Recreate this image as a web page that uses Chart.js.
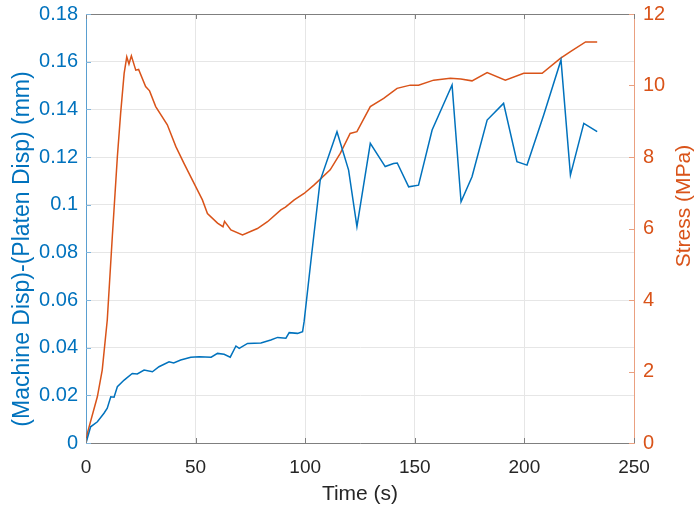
<!DOCTYPE html>
<html>
<head>
<meta charset="utf-8">
<script src="https://cdn.jsdelivr.net/npm/chart.js@4"></script>
<style>
  body { margin: 0; background: #fff; }
  #wrap { width: 696px; height: 512px; }
</style>
</head>
<body>
<div id="wrap"><canvas id="chart" width="696" height="512"></canvas></div>
<script>
// displacement difference (left axis)
const dispTime = [0, 2.1, 5.2, 8.2, 9.7, 11.3, 12.8, 14.3, 17.4, 21.1, 23.4, 26.5, 30.3, 33.3, 37.9, 40, 43.2, 47.8, 51.6, 57.1, 60, 63, 65.8, 68.4, 69.9, 73.7, 79.8, 84.3, 87.4, 91.2, 92.7, 96.5, 98.8, 99.5, 103, 106.8, 114.5, 119.8, 123.6, 129.7, 136.5, 140.3, 142, 147.2, 151.7, 157.9, 167, 171.1, 176.1, 183, 190.5, 196.6, 201.2, 208.8, 216.7, 221, 227.1, 233.2];
const dispVals = [0, 0.0068, 0.0089, 0.0125, 0.0146, 0.0194, 0.0192, 0.0236, 0.0264, 0.0292, 0.0290, 0.0306, 0.0299, 0.032, 0.0341, 0.0336, 0.0348, 0.036, 0.0362, 0.036, 0.0376, 0.0372, 0.036, 0.0407, 0.0397, 0.0418, 0.042, 0.0432, 0.0443, 0.044, 0.0463, 0.046, 0.0467, 0.0509, 0.0796, 0.110, 0.1306, 0.1145, 0.0908, 0.1257, 0.116, 0.1173, 0.1175, 0.1075, 0.1082, 0.1313, 0.1502, 0.1012, 0.1117, 0.1355, 0.1425, 0.118, 0.1166, 0.1376, 0.1607, 0.1124, 0.1341, 0.1306];

// stress (right axis)
const stressTime = [0, 0.6, 5.2, 7.4, 9.7, 12, 14.3, 15.8, 17.4, 18.6, 19.6, 20.7, 22.7, 24, 27.2, 29, 31.8, 37.1, 41, 44.7, 49.3, 53.1, 55.4, 60, 62.5, 63.2, 66.1, 71.4, 78.2, 82.8, 88.9, 91, 95, 99.5, 104.1, 111.4, 116, 120.5, 123.6, 129.7, 135.8, 141.9, 147.9, 151.7, 158.6, 166.2, 171, 176.1, 183, 191.3, 199.7, 208.1, 216.4, 221, 227.9, 233.2];
const stressVals = [0, 0.27, 1.3, 2.04, 3.44, 5.77, 8.0, 9.22, 10.34, 10.8, 10.6, 10.83, 10.43, 10.45, 9.97, 9.85, 9.41, 8.9, 8.29, 7.82, 7.26, 6.8, 6.42, 6.15, 6.05, 6.2, 5.96, 5.82, 6.0, 6.19, 6.52, 6.6, 6.8, 6.98, 7.22, 7.64, 8.1, 8.66, 8.71, 9.41, 9.64, 9.92, 10.01, 10.01, 10.15, 10.2, 10.18, 10.13, 10.36, 10.15, 10.34, 10.34, 10.76, 10.95, 11.22, 11.22];

const xTickLabels = ['0', '50', '100', '150', '200', '250'];
const leftTickLabels = ['0', '0.02', '0.04', '0.06', '0.08', '0.1', '0.12', '0.14', '0.16', '0.18'];
const rightTickLabels = ['0', '2', '4', '6', '8', '10', '12'];
const leftTitle = '(Machine Disp)-(Platen Disp) (mm)';
const rightTitle = 'Stress (MPa)';

const blue = '#0072BD';
const orange = '#D95319';
const greyText = '#262626';
const gridCol = '#e6e6e6';
const font = 'Liberation Sans, Arial, sans-serif';

function pts(xs, ys) {
    return xs.map((x, i) => ({x: x, y: ys[i]}));
}

// top frame, little inside tick marks like matlab, plus the two y titles (read bottom to top)
const matlabBits = {
    id: 'matlabBits',
    afterDatasetsDraw(chart) {
        const ctx = chart.ctx;
        const a = chart.chartArea;
        const sx = chart.scales.x, sy = chart.scales.y, sy2 = chart.scales.y2;
        const len = 5;
        ctx.save();
        ctx.lineWidth = 1;
        ctx.strokeStyle = '#7f7f7f';
        ctx.beginPath();
        const top = Math.round(a.top) + 0.5;
        ctx.moveTo(a.left, top); ctx.lineTo(a.right, top);
        for (let v = 0; v <= 250; v += 50) {
            const px = Math.round(sx.getPixelForValue(v)) + 0.5;
            ctx.moveTo(px, a.bottom); ctx.lineTo(px, a.bottom - len);
            ctx.moveTo(px, a.top); ctx.lineTo(px, a.top + len);
        }
        ctx.stroke();
        ctx.strokeStyle = '#7fb4dc';
        ctx.beginPath();
        for (let i = 0; i < leftTickLabels.length; i++) {
            const py = Math.round(sy.getPixelForValue(i * 0.02)) + 0.5;
            ctx.moveTo(a.left, py); ctx.lineTo(a.left + len, py);
        }
        ctx.stroke();
        ctx.strokeStyle = '#eaa080';
        ctx.beginPath();
        for (let i = 0; i < rightTickLabels.length; i++) {
            const py = Math.round(sy2.getPixelForValue(i * 2)) + 0.5;
            ctx.moveTo(a.right, py); ctx.lineTo(a.right - len, py);
        }
        ctx.stroke();

        ctx.textAlign = 'center';
        ctx.textBaseline = 'middle';
        ctx.save();
        ctx.translate(23, 249);
        ctx.rotate(-Math.PI / 2);
        ctx.fillStyle = blue;
        ctx.font = '23px ' + font;
        ctx.fillText(leftTitle, 0, 0);
        ctx.restore();
        ctx.save();
        ctx.translate(684, 206);
        ctx.rotate(-Math.PI / 2);
        ctx.fillStyle = orange;
        ctx.font = '21px ' + font;
        ctx.fillText(rightTitle, 0, 0);
        ctx.restore();
        ctx.restore();
    }
};

var ctx = document.getElementById('chart').getContext('2d');

var chart = new Chart(ctx, {
    type: 'line',
    data: {
        datasets: [{
            label: 'Disp',
            data: pts(dispTime, dispVals),
            borderColor: blue,
            borderWidth: 1.5,
            pointRadius: 0,
            tension: 0,
            yAxisID: 'y'
        }, {
            label: 'Stress',
            data: pts(stressTime, stressVals),
            borderColor: orange,
            borderWidth: 1.5,
            pointRadius: 0,
            tension: 0,
            yAxisID: 'y2'
        }]
    },
    options: {
        responsive: false,
        animation: false,
        layout: { padding: { top: 14, left: 0, right: 0, bottom: 0 } },
        plugins: {
            legend: { display: false },
            tooltip: { enabled: false }
        },
        scales: {
            x: {
                type: 'linear',
                min: 0, max: 250,
                afterFit: s => { s.height = 69; s.paddingLeft = 0; s.paddingRight = 0; },
                grid: { color: gridCol, drawTicks: false },
                border: { color: '#7f7f7f', width: 1 },
                ticks: {
                    stepSize: 50,
                    padding: 13,
                    color: greyText,
                    font: { family: font, size: 19 },
                    maxRotation: 0,
                    callback: (v, i) => xTickLabels[i]
                },
                title: {
                    display: true,
                    text: 'Time (s)',
                    color: greyText,
                    font: { family: font, size: 21 },
                    padding: { top: 0, bottom: 5 }
                }
            },
            y: {
                position: 'left',
                min: 0, max: 0.18,
                afterFit: s => { s.width = 86; s.paddingTop = 0; s.paddingBottom = 0; },
                grid: { color: gridCol, drawTicks: false },
                border: { color: '#5a9fd0', width: 1 },
                ticks: {
                    stepSize: 0.02,
                    padding: 8,
                    color: blue,
                    font: { family: font, size: 20 },
                    callback: (v, i) => leftTickLabels[i]
                }
            },
            y2: {
                position: 'right',
                min: 0, max: 12,
                afterFit: s => { s.width = 62; s.paddingTop = 0; s.paddingBottom = 0; },
                grid: { display: false, drawTicks: false },
                border: { color: '#eaa080', width: 1 },
                ticks: {
                    stepSize: 2,
                    padding: 9,
                    color: orange,
                    font: { family: font, size: 20 },
                    callback: (v, i) => rightTickLabels[i]
                }
            }
        }
    },
    plugins: [matlabBits]
});
</script>
</body>
</html>
